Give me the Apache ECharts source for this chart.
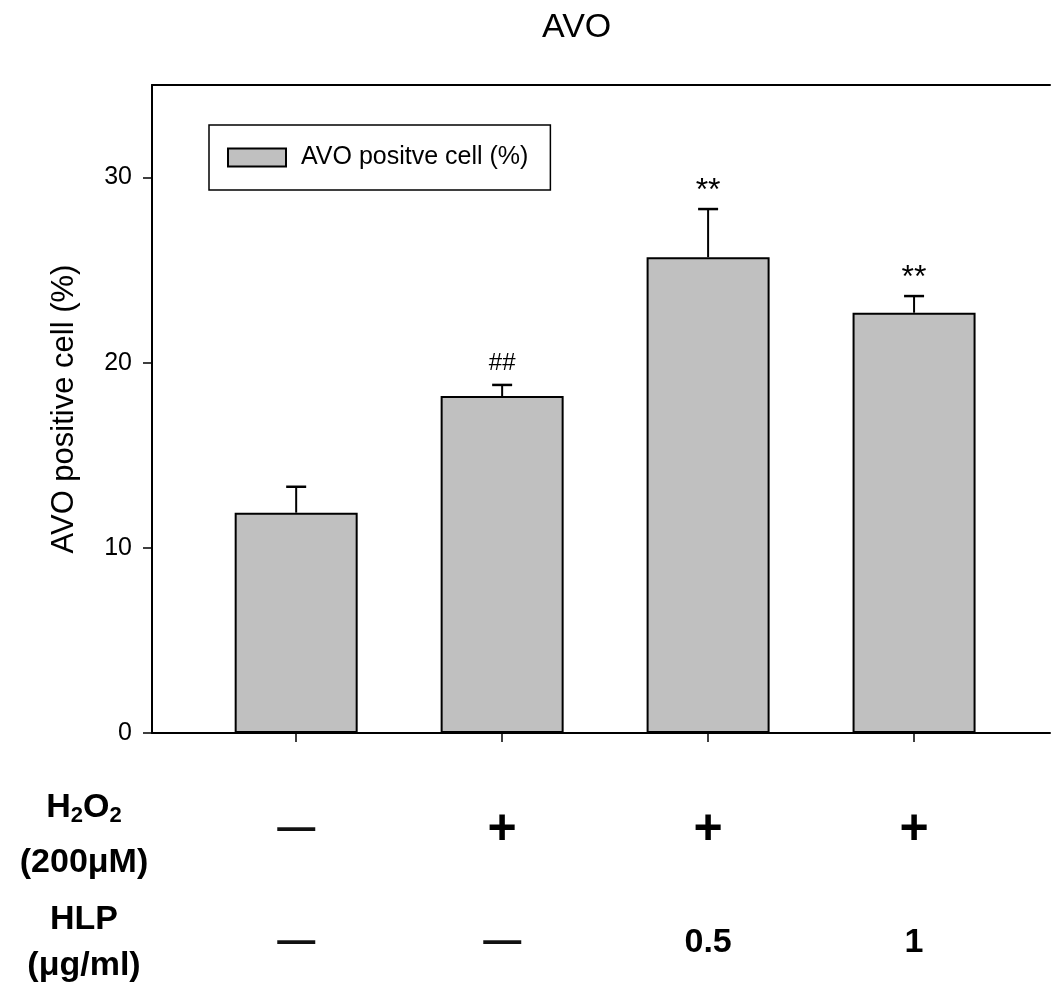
<!DOCTYPE html>
<html>
<head>
<meta charset="utf-8">
<script src="https://cdn.jsdelivr.net/npm/echarts@6/dist/echarts.min.js"></script>
<style>
html,body{margin:0;padding:0;background:#fff;}
#chart{width:1051px;height:989px;}
</style>
</head>
<body>
<div id="chart"></div>
<script>
// ---- data ----
var categories = ['Control', 'H2O2', 'H2O2 + HLP 0.5', 'H2O2 + HLP 1'];
var means = [11.9, 18.2, 25.7, 22.7];
var errors = [1.4, 0.6, 2.6, 0.9];
var signif = ['', '##', '**', '**'];
var h2o2Row = ['—', '+', '+', '+'];
var hlpRow = ['—', '—', '0.5', '1'];
var yTicks = [0, 10, 20, 30];
var catPositions = [0, 1, 2, 3];

var FONT = "'Liberation Sans', Arial, Helvetica, sans-serif";
var X_MIN = -0.7, X_MAX = 3.66;

var barData = categories.map(function (c, i) { return [catPositions[i], means[i]]; });
var errData = categories.map(function (c, i) { return [catPositions[i], means[i], means[i] + errors[i], i]; });

function rowLabelFormatter(row) {
  return function (v) {
    var i = Math.round(v);
    var s = row[i];
    if (s === '—') return '{d|—}';
    if (s === '+') return '{p|+}';
    return '{n|' + s + '}';
  };
}
var rowRich = {
  d: { fontSize: 38, fontFamily: FONT, color: '#111', lineHeight: 40, fontWeight: 'bold' },
  p: { fontSize: 50, fontFamily: FONT, color: '#000', lineHeight: 40, fontWeight: 'bold' },
  n: { fontSize: 34, fontFamily: FONT, color: '#000', lineHeight: 40, fontWeight: 'bold' }
};

var chart = echarts.init(document.getElementById('chart'), null, { renderer: 'canvas' });
var option = {
  backgroundColor: '#fff',
  animation: false,
  title: {
    text: 'AVO',
    left: 537, top: 6,
    textStyle: { fontFamily: FONT, fontSize: 34, fontWeight: 'normal', color: '#000' }
  },
  legend: {
    left: 209, top: 125,
    orient: 'vertical',
    data: [{ name: 'AVO positve cell (%)', icon: 'rect' }],
    itemWidth: 58, itemHeight: 18,
    borderColor: '#000', borderWidth: 1.5,
    padding: [20, 22, 20, 18],
    textStyle: { fontFamily: FONT, fontSize: 25, color: '#000', lineHeight: 25, padding: [0, 0, 0, 10] },
    selectedMode: false
  },
  grid: {
    left: 152, top: 85, width: 898, height: 648
  },
  xAxis: [
    {
      type: 'value', min: X_MIN, max: X_MAX,
      splitLine: { show: false },
      axisLine: { show: true, onZero: false, lineStyle: { color: '#000', width: 2 } },
      axisTick: { show: true, customValues: catPositions, length: 9, inside: false, lineStyle: { color: '#000', width: 1.5 } },
      axisLabel: { show: false }
    },
    {
      type: 'value', min: X_MIN, max: X_MAX, position: 'bottom', offset: 77,
      splitLine: { show: false }, axisLine: { show: false }, axisTick: { show: false },
      axisLabel: { show: true, customValues: catPositions, margin: 0, formatter: rowLabelFormatter(h2o2Row), rich: rowRich }
    },
    {
      type: 'value', min: X_MIN, max: X_MAX, position: 'bottom', offset: 190,
      splitLine: { show: false }, axisLine: { show: false }, axisTick: { show: false },
      axisLabel: { show: true, customValues: catPositions, margin: 0, formatter: rowLabelFormatter(hlpRow), rich: rowRich }
    },
    {
      type: 'value', min: X_MIN, max: X_MAX, position: 'top',
      splitLine: { show: false },
      axisLine: { show: true, onZero: false, lineStyle: { color: '#000', width: 2 } },
      axisTick: { show: false }, axisLabel: { show: false }
    }
  ],
  yAxis: {
    type: 'value', min: 0, max: 35,
    name: 'AVO positive cell (%)',
    nameLocation: 'middle', nameGap: 72, nameRotate: 90,
    nameTextStyle: { fontFamily: FONT, fontSize: 31, color: '#000' },
    splitLine: { show: false },
    axisLine: { show: true, onZero: false, lineStyle: { color: '#000', width: 2 } },
    axisTick: { show: true, customValues: yTicks, length: 9, lineStyle: { color: '#000', width: 1.5 } },
    axisLabel: { customValues: yTicks, margin: 20, fontFamily: FONT, fontSize: 25, color: '#000' }
  },
  series: [
    {
      name: 'AVO positve cell (%)',
      type: 'bar',
      xAxisIndex: 0,
      barWidth: 123,
      data: barData,
      itemStyle: { color: '#c0c0c0', borderColor: '#000', borderWidth: 2 }
    },
    {
      name: 'err',
      type: 'custom',
      xAxisIndex: 0,
      data: errData,
      z: 3,
      renderItem: function (params, api) {
        var x = api.value(0), m = api.value(1), hi = api.value(2), idx = api.value(3);
        var p0 = api.coord([x, m]);
        var p1 = api.coord([x, hi]);
        var cw = 10;
        var children = [
          { type: 'line', shape: { x1: p0[0], y1: p0[1], x2: p1[0], y2: p1[1] }, style: { stroke: '#000', lineWidth: 2 } },
          { type: 'line', shape: { x1: p1[0] - cw, y1: p1[1], x2: p1[0] + cw, y2: p1[1] }, style: { stroke: '#000', lineWidth: 2.5 } }
        ];
        var s = signif[idx];
        if (s) {
          var isStar = s === '**';
          children.push({
            type: 'text',
            style: {
              text: s, x: p1[0], y: p1[1] - (isStar ? 2 : 10),
              textAlign: 'center', textVerticalAlign: 'bottom',
              font: (isStar ? '32px ' : '24px ') + FONT, fill: '#000'
            }
          });
        }
        return { type: 'group', children: children };
      }
    }
  ],
  graphic: [
    {
      type: 'text',
      style: {
        x: 84, y: 780,
        text: '{b|H}{s|2}{b|O}{s|2}\n{b|(200μM)}',
        textAlign: 'center',
        rich: {
          b: { fontFamily: FONT, fontSize: 34, fontWeight: 'bold', fill: '#000', lineHeight: 55 },
          s: { fontFamily: FONT, fontSize: 22, fontWeight: 'bold', fill: '#000', lineHeight: 55, padding: [16, 0, 0, 0] }
        }
      }
    },
    {
      type: 'text',
      style: {
        x: 84, y: 897,
        text: '{b|HLP}\n{b|(μg/ml)}',
        textAlign: 'center',
        rich: {
          b: { fontFamily: FONT, fontSize: 34, fontWeight: 'bold', fill: '#000', lineHeight: 46 }
        }
      }
    }
  ]
};
chart.setOption(option);
</script>
</body>
</html>
